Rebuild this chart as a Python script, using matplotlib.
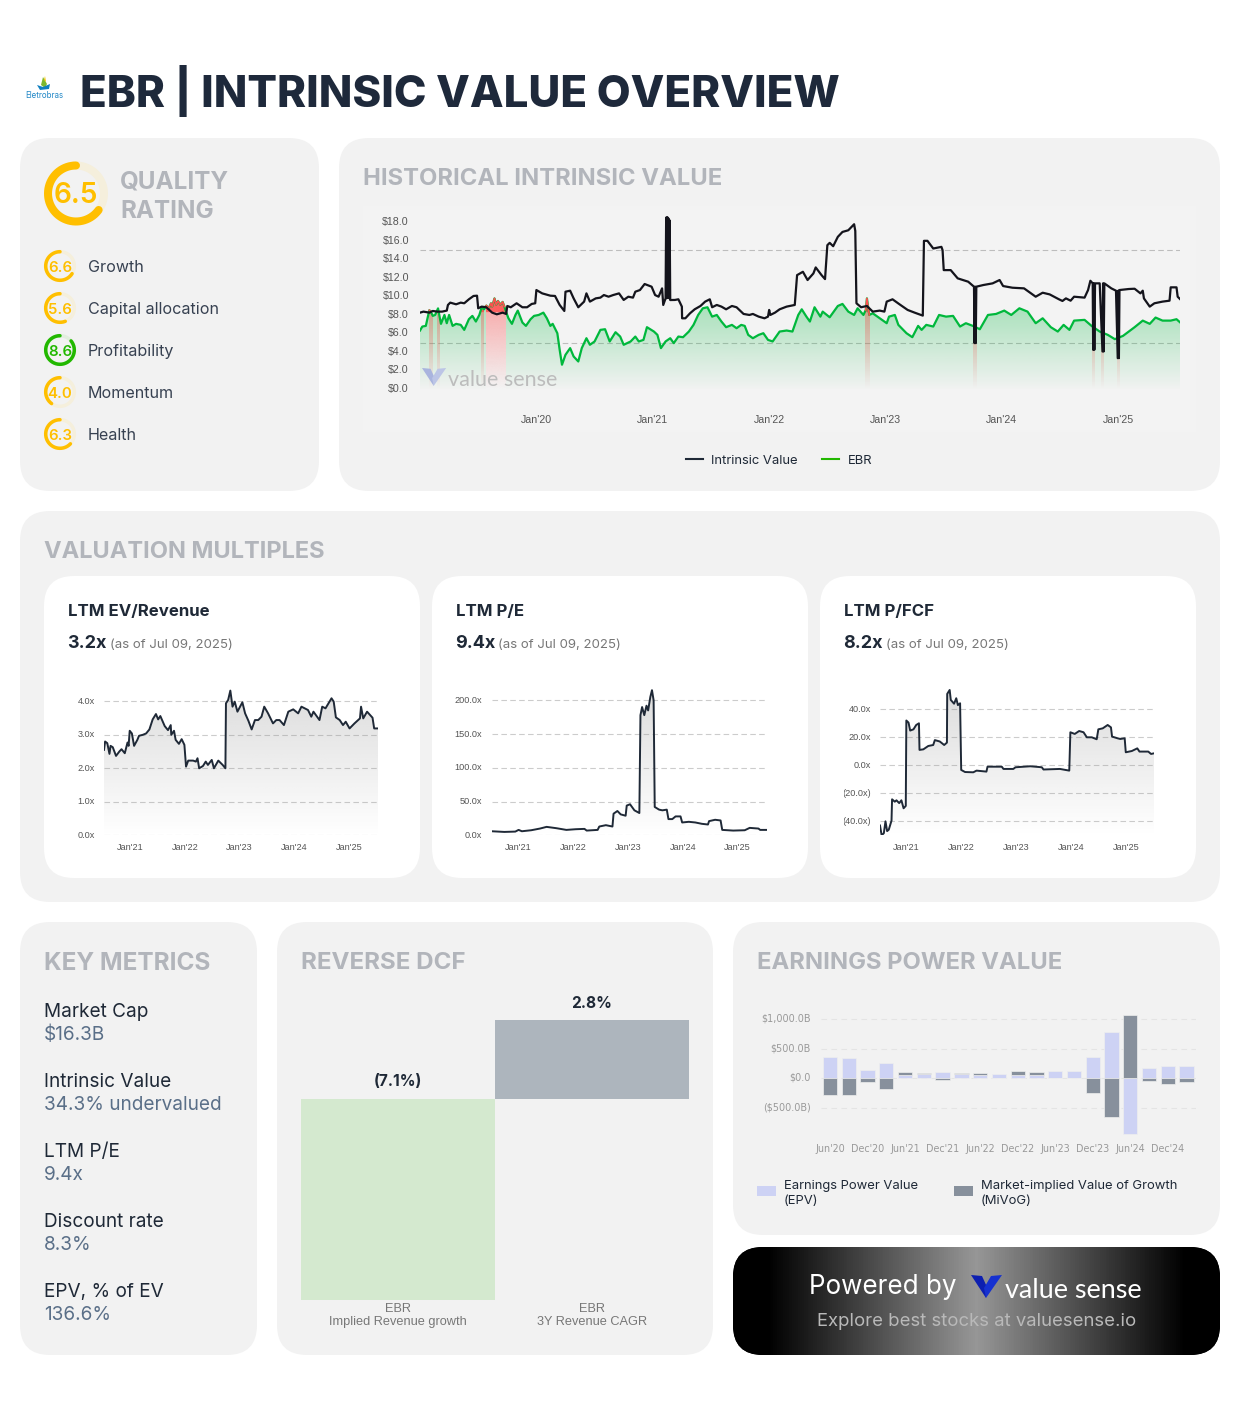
# -*- coding:utf-8 -*-
import numpy as np
import matplotlib
matplotlib.use('Agg')
import matplotlib.pyplot as plt
from matplotlib.patches import FancyBboxPatch, Polygon, Rectangle
from matplotlib.colors import to_rgb, LinearSegmentedColormap
from matplotlib.transforms import Bbox, ScaledTranslation

W, H = 1240, 1419
FONT = 'Inter'
TICK_FONT = 'Liberation Sans'

# --- quality ratings
QUALITY_SCORE = 6.5
RATING_NAMES = ['Growth', 'Capital allocation', 'Profitability', 'Momentum', 'Health']
RATING_SCORES = [6.6, 5.6, 8.6, 4.0, 6.3]

# --- historical intrinsic value
IV_DATES = [2019.00, 2019.03, 2019.08, 2019.11, 2019.15, 2019.19, 2019.23, 2019.24, 2019.26, 2019.31, 2019.35, 2019.38,
            2019.42, 2019.46, 2019.49, 2019.50, 2019.53, 2019.57, 2019.62, 2019.66, 2019.71, 2019.74, 2019.75, 2019.78,
            2019.83, 2019.88, 2019.92, 2019.96, 2019.99, 2020.00, 2020.05, 2020.12, 2020.16, 2020.20, 2020.24, 2020.25,
            2020.29, 2020.32, 2020.36, 2020.41, 2020.43, 2020.46, 2020.51, 2020.55, 2020.58, 2020.62, 2020.66, 2020.71,
            2020.75, 2020.79, 2020.83, 2020.85, 2020.89, 2020.93, 2020.99, 2021.02, 2021.05, 2021.08, 2021.09, 2021.11,
            2021.115, 2021.120, 2021.125, 2021.130, 2021.135, 2021.140, 2021.145, 2021.150,
            2021.19, 2021.22, 2021.25, 2021.252, 2021.28, 2021.32, 2021.36, 2021.41, 2021.45, 2021.49, 2021.51, 2021.55,
            2021.59, 2021.63, 2021.68, 2021.72, 2021.78, 2021.83, 2021.86, 2021.91, 2021.96, 2021.99, 2022.00, 2022.01,
            2022.05, 2022.09, 2022.15, 2022.22, 2022.24, 2022.29, 2022.33, 2022.38, 2022.40, 2022.45, 2022.48, 2022.50,
            2022.52, 2022.55, 2022.59, 2022.63, 2022.68, 2022.73, 2022.74, 2022.75, 2022.79, 2022.84, 2022.89, 2022.95,
            2022.99, 2023.01, 2023.06, 2023.12, 2023.19, 2023.25, 2023.32, 2023.33, 2023.36, 2023.41, 2023.48, 2023.49,
            2023.50, 2023.56, 2023.62, 2023.71, 2023.76, 2023.765, 2023.770, 2023.775, 2023.78, 2023.84, 2023.92, 2023.98,
            2024.01, 2024.09, 2024.19, 2024.29, 2024.35, 2024.41, 2024.49, 2024.52, 2024.55, 2024.59, 2024.62, 2024.71,
            2024.74, 2024.76, 2024.78, 2024.784, 2024.789, 2024.794, 2024.80, 2024.84, 2024.864, 2024.869, 2024.874, 2024.88,
            2024.94, 2024.98, 2024.995, 2025.000, 2025.005, 2025.01, 2025.09, 2025.14, 2025.19, 2025.21, 2025.22, 2025.27,
            2025.31, 2025.38, 2025.44, 2025.45, 2025.50, 2025.51, 2025.53]
IV_VALUES = [8.24, 8.35, 8.24, 8.42, 8.35, 8.35, 8.46, 9.07, 9.32, 9.14, 9.32, 9.25,
             9.68, 10.04, 10.07, 8.71, 8.89, 8.82, 8.24, 8.06, 8.24, 8.10, 8.96, 8.82,
             9.25, 8.82, 8.82, 9.18, 9.25, 10.68, 10.32, 10.07, 10.04, 9.07, 8.42, 10.50,
             10.61, 9.78, 8.82, 9.43, 10.32, 9.43, 9.78, 9.86, 10.14, 9.96, 10.14, 10.32,
             9.61, 9.96, 9.86, 10.50, 10.68, 11.33, 11.04, 10.14, 9.96, 10.86, 9.07, 9.78,
             18.5, 9.8, 18.55, 9.9, 18.4, 9.8, 18.2, 9.6,
             9.61, 9.68, 8.89, 7.63, 7.63, 8.17, 8.60, 8.96, 9.43, 9.68, 8.82, 9.07,
             8.89, 8.60, 8.96, 8.82, 8.10, 7.99, 8.10, 7.81, 7.63, 7.81, 8.53, 7.99,
             8.24, 8.60, 8.89, 9.07, 12.29, 12.65, 11.76, 12.47, 13.12, 12.29, 11.86, 15.52,
             15.77, 15.41, 16.42, 16.95, 17.13, 17.78, 17.06, 9.25, 8.82, 8.96, 8.35, 8.46,
             8.35, 9.43, 9.68, 9.14, 8.53, 8.24, 7.92, 15.99, 15.99, 15.16, 15.34, 14.98,
             12.83, 12.83, 11.94, 11.58, 11.04, 4.95, 11.04, 4.95, 11.04, 11.22, 11.40, 11.76,
             11.11, 10.93, 10.86, 9.96, 10.39, 10.21, 9.68, 9.50, 9.78, 9.53, 9.96, 9.86,
             10.68, 11.68, 11.40, 4.23, 11.40, 4.23, 11.40, 11.40, 4.05, 11.40, 4.05, 11.40,
             10.86, 10.61, 3.33, 10.61, 3.33, 10.68, 10.79, 10.82, 10.32, 10.61, 9.78, 8.89,
             9.25, 9.43, 9.53, 10.97, 10.97, 9.96, 9.71]

EBR_DATES = [2019.00, 2019.02, 2019.05, 2019.08, 2019.09, 2019.11, 2019.13, 2019.155, 2019.18, 2019.21, 2019.23, 2019.25, 2019.28,
             2019.31, 2019.35, 2019.38, 2019.42, 2019.45, 2019.48, 2019.51, 2019.53, 2019.55, 2019.57, 2019.59, 2019.61, 2019.62,
             2019.64, 2019.655, 2019.67, 2019.69, 2019.71, 2019.725, 2019.74, 2019.76, 2019.79, 2019.82, 2019.84, 2019.88, 2019.91,
             2019.95, 2019.98, 2020.02,
             2020.06, 2020.09, 2020.12, 2020.14, 2020.18, 2020.20, 2020.22, 2020.25, 2020.29, 2020.32, 2020.36, 2020.39,
             2020.43, 2020.46, 2020.50, 2020.55, 2020.59, 2020.63, 2020.68, 2020.72, 2020.75, 2020.81, 2020.85, 2020.88,
             2020.92, 2020.95, 2021.01, 2021.04, 2021.07, 2021.11, 2021.15, 2021.18, 2021.22, 2021.26, 2021.31, 2021.35,
             2021.39, 2021.43, 2021.47, 2021.51, 2021.55, 2021.59, 2021.63, 2021.68, 2021.72, 2021.76, 2021.79, 2021.82,
             2021.86, 2021.91, 2021.95, 2021.99, 2022.03, 2022.09, 2022.15, 2022.20, 2022.25, 2022.28, 2022.32, 2022.35,
             2022.39, 2022.44, 2022.46, 2022.52, 2022.59, 2022.63, 2022.68, 2022.73, 2022.76, 2022.81, 2022.83, 2022.84,
             2022.86, 2022.89, 2022.93, 2023.01, 2023.03, 2023.08, 2023.11, 2023.18, 2023.23, 2023.28, 2023.31, 2023.35,
             2023.41, 2023.46, 2023.52, 2023.58, 2023.64, 2023.69, 2023.75, 2023.81, 2023.88, 2023.95, 2024.02, 2024.08,
             2024.15, 2024.22, 2024.29, 2024.35, 2024.42, 2024.48, 2024.53, 2024.58, 2024.62, 2024.71, 2024.77, 2024.84,
             2024.91, 2024.97, 2025.04, 2025.14, 2025.21, 2025.27, 2025.32, 2025.38, 2025.45, 2025.50, 2025.53]
EBR_VALUES = [6.31, 6.74, 6.81, 8.50, 8.40, 7.89, 7.99, 8.70, 7.03, 7.99, 7.10, 7.99, 6.81,
              7.03, 6.92, 6.38, 7.53, 7.89, 7.28, 7.99, 8.82, 8.60, 9.00, 8.70, 9.25, 8.90,
              9.78, 9.10, 9.50, 9.10, 9.40, 8.90, 8.30, 7.63, 7.03, 7.99, 8.46, 7.17, 6.81,
              7.53, 7.89, 7.99,
              8.24, 7.63, 6.81, 7.03, 6.02, 4.23, 2.62, 3.69, 4.41, 3.51, 2.97, 4.41,
              5.48, 4.77, 5.13, 6.38, 6.45, 5.13, 6.13, 5.66, 4.77, 5.13, 5.66, 5.13,
              5.30, 6.67, 6.20, 5.84, 4.41, 5.13, 5.48, 4.95, 5.66, 5.59, 6.20, 6.92,
              7.99, 8.71, 8.82, 7.81, 7.99, 7.28, 6.67, 6.92, 6.56, 6.92, 6.81, 5.84,
              5.48, 5.84, 6.02, 5.30, 5.13, 6.20, 6.31, 6.20, 7.99, 8.60, 7.81, 7.28,
              8.82, 7.81, 8.35, 7.74, 8.96, 9.18, 8.35, 7.99, 8.71, 7.99, 8.53, 9.78,
              7.99, 8.17, 7.81, 7.10, 7.81, 7.99, 6.92, 6.02, 5.59, 6.81, 6.38, 6.92,
              6.74, 7.99, 7.81, 7.89, 6.74, 7.10, 6.81, 6.45, 7.99, 8.10, 8.46, 7.99,
              8.71, 8.35, 7.10, 7.63, 6.67, 6.20, 6.92, 6.38, 7.38, 7.46, 6.81, 6.20,
              5.84, 5.38, 5.73, 6.67, 7.38, 7.03, 7.71, 7.38, 7.38, 7.53, 7.20]

# periods where the stock trades above intrinsic value
ABOVE_IV_SPANS = [(2019.075, 2019.105), (2019.150, 2019.170), (2019.525, 2019.545), (2019.570, 2019.735),
                  (2022.825, 2022.860), (2023.755, 2023.785), (2024.775, 2024.800), (2024.855, 2024.880),
                  (2024.990, 2025.010)]
HIST_YTICKS = [0, 2, 4, 6, 8, 10, 12, 14, 16, 18]
HIST_GRID = [0, 5, 10, 15]
YEAR_TICKS = [2020, 2021, 2022, 2023, 2024, 2025]

# --- valuation multiples
EVREV_DATES = [2020.52, 2020.54, 2020.58, 2020.62, 2020.64, 2020.68, 2020.74, 2020.80, 2020.84, 2020.90, 2020.95, 2020.97,
               2020.99, 2021.03, 2021.07, 2021.13, 2021.16, 2021.23, 2021.29, 2021.35, 2021.41, 2021.47, 2021.51, 2021.55,
               2021.63, 2021.69, 2021.74, 2021.75, 2021.80, 2021.83, 2021.89, 2021.94, 2021.99, 2022.02, 2022.06, 2022.15,
               2022.20, 2022.23, 2022.26, 2022.33, 2022.38, 2022.42, 2022.49, 2022.53, 2022.61, 2022.69, 2022.74, 2022.75,
               2022.79, 2022.83, 2022.87, 2022.91, 2022.96, 2023.05, 2023.10, 2023.16, 2023.22, 2023.28, 2023.34, 2023.40,
               2023.45, 2023.52, 2023.61, 2023.67, 2023.73, 2023.81, 2023.89, 2023.98, 2024.07, 2024.13, 2024.25, 2024.31,
               2024.35, 2024.46, 2024.51, 2024.57, 2024.68, 2024.72, 2024.76, 2024.83, 2024.89, 2024.94, 2025.01, 2025.10,
               2025.20, 2025.22, 2025.26, 2025.33, 2025.43, 2025.46, 2025.53]
EVREV_VALUES = [2.55, 2.80, 2.75, 2.43, 2.67, 2.63, 2.37, 2.50, 2.57, 2.45, 2.77, 2.67,
                3.12, 3.04, 2.67, 2.85, 2.97, 3.00, 3.04, 3.16, 3.46, 3.62, 3.46, 3.56,
                3.26, 3.14, 3.29, 3.00, 3.12, 2.85, 2.73, 2.87, 2.70, 2.05, 2.23, 2.23,
                2.20, 2.30, 2.00, 2.07, 2.20, 2.10, 2.25, 2.00, 2.23, 2.10, 2.00, 3.94,
                4.04, 4.32, 3.84, 3.99, 3.69, 3.97, 3.64, 3.42, 3.16, 3.44, 3.44, 3.54,
                3.84, 3.64, 3.34, 3.44, 3.44, 3.29, 3.69, 3.76, 3.64, 3.84, 3.74, 3.54,
                3.69, 3.44, 3.84, 3.79, 4.09, 3.99, 3.52, 3.44, 3.29, 3.39, 3.19, 3.34,
                3.49, 3.84, 3.49, 3.69, 3.51, 3.19, 3.19]

PE_DATES = [2020.52, 2020.75, 2020.95, 2021.01, 2021.07, 2021.24, 2021.40, 2021.52, 2021.70, 2021.88, 2022.05, 2022.21,
            2022.25, 2022.45, 2022.48, 2022.60, 2022.72, 2022.74, 2022.81, 2022.87, 2022.96, 2022.98, 2023.04, 2023.12,
            2023.21, 2023.23, 2023.26, 2023.30, 2023.34, 2023.37, 2023.41, 2023.44, 2023.47, 2023.49, 2023.57, 2023.63,
            2023.71, 2023.74, 2023.81, 2023.87, 2023.96, 2023.99, 2024.11, 2024.23, 2024.35, 2024.46, 2024.48, 2024.59,
            2024.69, 2024.72, 2024.92, 2025.13, 2025.22, 2025.38, 2025.41, 2025.53]
PE_VALUES = [6, 5, 5.5, 8, 6, 7.5, 10, 12.5, 10.5, 8, 9, 9.5,
             7, 8, 13, 15, 13, 32, 36, 31, 29, 44, 46, 37,
             33, 178, 190, 178, 192, 185, 205, 215, 200, 42, 38, 37,
             38, 24, 24, 28, 28, 19, 20, 19, 17, 16, 21, 23,
             22, 8, 7, 7.5, 11, 10, 8, 8]

PFCF_DATES = [2020.52, 2020.55, 2020.59, 2020.62, 2020.65, 2020.68, 2020.73, 2020.74, 2020.79, 2020.82, 2020.87, 2020.91,
              2020.95, 2020.99, 2021.00, 2021.04, 2021.07, 2021.13, 2021.18, 2021.23, 2021.24, 2021.31, 2021.40, 2021.49,
              2021.52, 2021.61, 2021.69, 2021.74, 2021.745, 2021.79, 2021.81, 2021.87, 2021.91, 2021.94, 2021.98, 2022.00,
              2022.07, 2022.22, 2022.28, 2022.46, 2022.48, 2022.74, 2022.77, 2022.95, 2022.99, 2023.26, 2023.47, 2023.50,
              2023.80, 2023.97, 2023.99, 2024.07, 2024.15, 2024.23, 2024.29, 2024.38, 2024.47, 2024.50, 2024.58, 2024.67,
              2024.73, 2024.75, 2024.85, 2024.90, 2024.98, 2025.00, 2025.11, 2025.21, 2025.25, 2025.41, 2025.46, 2025.52]
PFCF_VALUES = [-43, -50, -48.5, -40, -47, -46, -39.5, -24.3, -26, -25, -27, -25,
               -30.7, -29, 32, 30.5, 24.8, 25.7, 28.8, 30, 11, 11.4, 13.8, 14.5,
               18, 17, 14.5, 16.2, 51, 53.8, 46.7, 44, 47.9, 43, 44.3, -3.3,
               -4.8, -5, -3.8, -4.5, -1, -1, -2.6, -2.6, -1.4, -0.7, -1.4, -3,
               -2.6, -3.8, 23.6, 22.4, 24.5, 23.6, 20, 20, 18.6, 25.7, 26.4, 28.8,
               27.1, 20.5, 19.3, 18.8, 19.3, 9.3, 10.2, 12.1, 9.8, 9.8, 8.1, 8.6]

MULTIPLE_TITLES = ['LTM EV/Revenue', 'LTM P/E', 'LTM P/FCF']
MULTIPLE_NOW = ['3.2x', '9.4x', '8.2x']
AS_OF = '(as of Jul 09, 2025)'
EVREV_TICKS = [0, 1, 2, 3, 4]
EVREV_LABELS = ['0.0x', '1.0x', '2.0x', '3.0x', '4.0x']
PE_TICKS = [0, 50, 100, 150, 200]
PE_LABELS = ['0.0x', '50.0x', '100.0x', '150.0x', '200.0x']
PFCF_TICKS = [-40, -20, 0, 20, 40]
PFCF_LABELS = ['(40.0x)', '(20.0x)', '0.0x', '20.0x', '40.0x']
MULT_YEARS = [2021, 2022, 2023, 2024, 2025]

# --- key metrics
METRIC_NAMES = ['Market Cap', 'Intrinsic Value', 'LTM P/E', 'Discount rate', 'EPV, % of EV']
METRIC_VALUES = ['$16.3B', '34.3% undervalued', '9.4x', '8.3%', '136.6%']

# --- reverse dcf
DCF_LABELS = ['EBR\nImplied Revenue growth', 'EBR\n3Y Revenue CAGR']
DCF_VALUES = [-7.1, 2.8]
DCF_TEXT = ['(7.1%)', '2.8%']

# --- earnings power value
EPV_PERIODS = ["Jun'20", "Sep'20", "Dec'20", "Mar'21", "Jun'21", "Sep'21", "Dec'21", "Mar'22", "Jun'22", "Sep'22",
               "Dec'22", "Mar'23", "Jun'23", "Sep'23", "Dec'23", "Mar'24", "Jun'24", "Sep'24", "Dec'24", "Mar'25"]
EPV_VALUES = [354, 343, 140, 253, 56, 73, 107, 73, 62, 73, 56, 56, 124, 124, 360, 781, -950, 169, 208, 202]
MIVOG_VALUES = [-275, -275, -56, -178, 45, 17, -34, 17, 22, 0, 73, 51, 0, 0, -242, -652, 1073, -39, -90, -56]
EPV_TICKS = [-500, 0, 500, 1000]
EPV_TICK_LABELS = ['($500.0B)', '$0.0', '$500.0B', '$1,000.0B']

plt.rcParams['font.family'] = [FONT, 'DejaVu Sans']

INK = '#1f2937'
HEAD_GREY = '#b2b5bb'
CARD = '#f2f2f2'
AMBER = '#ffbf00'
GREEN = '#22b800'


def card(ax, x, y, w, h, r=30, color=CARD):
    p = FancyBboxPatch((x, y), w, h, boxstyle='round,pad=0,rounding_size=%s' % r,
                       facecolor=color, edgecolor='none', zorder=1)
    ax.add_patch(p)
    return p


def px_axes(x0, x1, y_top, y_bottom):
    a = fig.add_axes([x0 / W, 1 - y_bottom / H, (x1 - x0) / W, (y_bottom - y_top) / H])
    a.patch.set_alpha(0)
    for s in a.spines.values():
        s.set_visible(False)
    a.tick_params(length=0)
    return a


def nudge_up(labels, px):
    for t in labels:
        t.set_transform(t.get_transform() + ScaledTranslation(0, px / 100, fig.dpi_scale_trans))


def gradient_under(a, xs, ys, base, top, color, alpha_col, span=None, z=1.5):
    # alpha_col runs from the top of the picture to the base
    xs = np.asarray(xs)
    ys = np.asarray(ys)
    verts = np.column_stack([np.r_[xs[0], xs, xs[-1]], np.r_[base, ys, base]])
    clip = Polygon(verts, closed=True, facecolor='none', edgecolor='none', transform=a.transData)
    a.add_patch(clip)
    img = np.zeros((len(alpha_col), 1, 4))
    img[..., :3] = to_rgb(color)
    img[:, 0, 3] = alpha_col
    x0, x1 = span if span else (xs[0], xs[-1])
    im = a.imshow(img, extent=[x0, x1, base, top], origin='upper', aspect='auto', zorder=z)
    im.set_clip_path(clip)
    return im


def ring(ax, cx, cy, r, lw, score, color, track):
    # score runs anticlockwise from the top
    t = np.linspace(0, 2 * np.pi, 200)
    ax.plot(cx - r * np.sin(t), cy - r * np.cos(t), color=track, lw=lw * 0.72, zorder=3)
    t = np.linspace(0, 2 * np.pi * score / 10, 200)
    ax.plot(cx - r * np.sin(t), cy - r * np.cos(t), color=color, lw=lw * 0.72, zorder=4,
            solid_capstyle='round')


def vs_logo(ax, x, y, s, left, right):
    # little V mark of the value sense logo
    ax.add_patch(Polygon([(x, y), (x + 11 * s, y + 1 * s), (x + 16 * s, y + 12 * s), (x + 15 * s, y + 23 * s)],
                         facecolor=left, edgecolor='none', zorder=6))
    ax.add_patch(Polygon([(x + 31 * s, y), (x + 20 * s, y + 1 * s), (x + 13 * s, y + 13 * s), (x + 15 * s, y + 23 * s)],
                         facecolor=right, edgecolor='none', zorder=6))


fig = plt.figure(figsize=(W / 100, H / 100), dpi=100, facecolor='white')
bg = fig.add_axes([0, 0, 1, 1])
bg.set_xlim(0, W)
bg.set_ylim(H, 0)
bg.axis('off')


def label(x, y, s, size, color=INK, weight='normal', ha='left', va='center', family=None, dy=2, on=None, **kw):
    target = on if on is not None else bg
    return target.text(x, y + dy, s, fontsize=size * 0.72, color=color, fontweight=weight, ha=ha, va=va,
                       family=family if family else [FONT, 'DejaVu Sans'], zorder=7, **kw)


# header
label(80, 91, 'EBR | INTRINSIC VALUE OVERVIEW', 43.85, color='#1e293b', weight=800, dy=0)
label(44, 95.5, 'Eletrobras', 7.9, color='#1f86c6', ha='center', dy=0)
bg.add_patch(Polygon([(43, 77), (47, 84), (45, 88), (41, 85)], facecolor='#7cb82f', edgecolor='none', zorder=5))
bg.add_patch(Polygon([(44, 80), (45, 76), (46, 82)], facecolor='#f2c200', edgecolor='none', zorder=6))
bg.add_patch(Polygon([(37, 85), (43, 87), (50, 84), (49, 89), (40, 90)], facecolor='#0f7fc0', edgecolor='none', zorder=5))

# cards
card(bg, 20, 138, 299, 353)
card(bg, 339, 138, 881, 353)
card(bg, 20, 511, 1200, 391)
card(bg, 44, 576, 376, 302, color='white')
card(bg, 432, 576, 376, 302, color='white')
card(bg, 820, 576, 376, 302, color='white')
card(bg, 20, 922, 237, 433)
card(bg, 277, 922, 436, 433)
card(bg, 733, 922, 487, 313)

# quality rating
ring(bg, 76, 193.5, 28, 8, QUALITY_SCORE, AMBER, '#f5efdc')
label(76, 193.5, '%.1f' % QUALITY_SCORE, 28, color=AMBER, weight='semibold', ha='center')
label(120, 180, 'QUALITY', 24.2, color=HEAD_GREY, weight='bold')
label(120, 209, 'RATING', 24.2, color=HEAD_GREY, weight='bold')
for i in range(len(RATING_NAMES)):
    cy = 266 + 42 * i
    score = RATING_SCORES[i]
    col = GREEN if score >= 7 else AMBER
    track = '#e2eede' if score >= 7 else '#f5efdc'
    ring(bg, 60, cy, 14.3, 3.5, score, col, track)
    label(60, cy, '%.1f' % score, 15, color=col, weight='semibold', ha='center')
    label(88, cy - 0.5, RATING_NAMES[i], 16.1, color='#374151')

# historical chart
label(363, 177, 'HISTORICAL INTRINSIC VALUE', 23.8, color=HEAD_GREY, weight='bold')
bg.add_patch(Rectangle((363, 206), 833, 226, facecolor='#f3f3f3', edgecolor='none', zorder=1.2))
h_per = (389 - 250) / 15.0
ax = px_axes(420, 1180, 207, 389)
HIST_TOP = 182 / h_per
gradient_under(ax, EBR_DATES, EBR_VALUES, 0, 10, '#00b83c', np.linspace(0.34, 0.01, 256))
stops = np.linspace(9.9, 0, 256)
red_alpha = np.where(stops > 8.3, 0.85, 0.38 * stops / 8.3)
for span in ABOVE_IV_SPANS:
    if span[1] - span[0] > 0.05:
        # wide red zones hide the green wash below them
        gradient_under(ax, EBR_DATES, EBR_VALUES, 0, 9.9, '#f3f3f3', np.ones(256), span=span, z=1.6)
    gradient_under(ax, EBR_DATES, EBR_VALUES, 0, 9.9, '#ff4545', red_alpha, span=span, z=1.7)
ebr_d = np.asarray(EBR_DATES)
ebr_v = np.asarray(EBR_VALUES)
ax.plot(ebr_d, ebr_v, color='#00b83c', lw=1.6, zorder=3)
for span in ABOVE_IV_SPANS:
    mask = (ebr_d >= span[0]) & (ebr_d <= span[1])
    if mask.sum() > 1:
        ax.plot(ebr_d[mask], ebr_v[mask], color='#ff5050', lw=1.2, zorder=3.2)
ax.plot(IV_DATES, IV_VALUES, color='#14141c', lw=1.6, zorder=4)
ax.set_xlim(2019.0, 2025.53)
ax.set_ylim(0, HIST_TOP)
ax.set_yticks(HIST_YTICKS)
ax.set_yticklabels(['$%.1f' % v for v in HIST_YTICKS], family=TICK_FONT, fontsize=7.7, color='#555555')
ax.set_yticks(HIST_GRID, minor=True)
ax.set_xticks(YEAR_TICKS)
ax.set_xticklabels(["Jan'%d" % (y % 100) for y in YEAR_TICKS], family=TICK_FONT, fontsize=7.7, color='#555555')
ax.grid(which='minor', axis='y', color='#bdbdbd', ls=(0, (5, 3)), lw=0.8, zorder=1)
ax.set_axisbelow(True)
ax.tick_params(which='both', length=0)
ax.tick_params(axis='x', pad=19)
ax.tick_params(axis='y', pad=8)
nudge_up(ax.get_yticklabels(), 1)

# legend
bg.plot([686, 703], [459, 459], color=INK, lw=1.5, zorder=6)
label(711, 459.5, 'Intrinsic Value', 13)
bg.plot([822, 839], [459, 459], color=GREEN, lw=1.5, zorder=6)
label(848, 459.5, 'EBR', 13)

# valuation multiples
label(44, 550, 'VALUATION MULTIPLES', 23.65, color=HEAD_GREY, weight='bold')
LEFTS = [68, 456, 844]
for i in range(3):
    label(LEFTS[i], 610, MULTIPLE_TITLES[i], 16.8, weight='bold')
    label(LEFTS[i] - 1, 642, MULTIPLE_NOW[i], 18, weight='bold')
    label(LEFTS[i] + 42, 643, AS_OF, 13.2, color='#777777')

specs = [(EVREV_DATES, EVREV_VALUES, EVREV_TICKS, EVREV_LABELS, 104, 378, 835.3, 33.5, 0, 4.45),
         (PE_DATES, PE_VALUES, PE_TICKS, PE_LABELS, 491.7, 766.7, 835.3, 0.675, 0, 222),
         (PFCF_DATES, PFCF_VALUES, PFCF_TICKS, PFCF_LABELS, 880, 1154.3, 835.3, 1.4, -50, 56)]
for dates, vals, ticks, labs, x0, x1, y_base, per, lo, hi in specs:
    top = y_base - (hi - lo) * per
    a = px_axes(x0, x1, top, y_base)
    gradient_under(a, dates, vals, lo, hi, '#8f8f8f', np.linspace(0.32, 0.0, 256))
    a.plot(dates, vals, color='#1f2937', lw=1.4, zorder=3)
    a.set_xlim(dates[0], dates[-1])
    a.set_ylim(lo, hi)
    a.set_yticks(ticks)
    a.set_yticklabels(labs, family=TICK_FONT, fontsize=6.6, color='#555555')
    a.set_xticks(MULT_YEARS)
    a.set_xticklabels(["Jan'%d" % (y % 100) for y in MULT_YEARS], family=TICK_FONT, fontsize=6.6, color='#555555')
    a.grid(axis='y', color='#cccccc', ls=(0, (5, 3)), lw=0.8)
    a.set_axisbelow(True)
    a.tick_params(axis='x', pad=5.2)
    a.tick_params(axis='y', pad=6.7)
    nudge_up(a.get_yticklabels(), 1)
    if lo < 0:
        # the bracket of the negative labels is cut by the chart box in the reference
        for t in a.get_yticklabels():
            t.set_clip_on(True)
            t.set_clip_box(Bbox([[844.3, 0], [W, H]]))

# key metrics
label(44, 961, 'KEY METRICS', 24.4, color=HEAD_GREY, weight='bold')
for i in range(5):
    label(44, 1010 + 70 * i, METRIC_NAMES[i], 19)
    label(44, 1033 + 70 * i, METRIC_VALUES[i], 19, color='#5a6f88')

# reverse dcf
label(301, 961, 'REVERSE DCF', 24.1, color=HEAD_GREY, weight='bold')
a = px_axes(301, 689, 1000, 1300)
a.bar([0, 1], DCF_VALUES, width=1.0, color=['#d4e9cf', '#adb5bd'], zorder=2)
a.set_xlim(-0.5, 1.5)
a.set_ylim(-7.1, 3.49)
a.set_yticks([])
a.set_xticks([0, 1])
a.set_xticklabels(DCF_LABELS, family=TICK_FONT, fontsize=9.2, color='#777777', linespacing=1.08)
a.tick_params(axis='x', pad=2.4)
a.text(0, 0.63, DCF_TEXT[0], ha='center', va='center', fontsize=15.5 * 0.72, fontweight='bold', color=INK)
a.text(1, 3.38, DCF_TEXT[1], ha='center', va='center', fontsize=15.5 * 0.72, fontweight='bold', color=INK)

# earnings power value
label(757, 961, 'EARNINGS POWER VALUE', 23.8, color=HEAD_GREY, weight='bold')
a = px_axes(820.6, 1196, 1010, 1135)
per_b = 0.059
idx = np.arange(len(EPV_PERIODS))
epv = np.asarray(EPV_VALUES, dtype=float)
mivog = np.asarray(MIVOG_VALUES, dtype=float)
same = np.sign(epv) == np.sign(mivog)
a.bar(idx, epv, width=0.76, color='#cdd2f4', edgecolor='#eeeeee', lw=0.5, zorder=2)
a.bar(idx, mivog, width=0.76, bottom=np.where(same, epv, 0), color='#87909c', edgecolor='#eeeeee', lw=0.5, zorder=2)
a.set_xlim(-0.5, 19.5)
a.set_ylim(-(1135 - 1078.3) / per_b, (1078.3 - 1010) / per_b)
a.set_yticks(EPV_TICKS)
a.set_yticklabels(EPV_TICK_LABELS, fontsize=6.9, color='#999999', family=['DejaVu Sans'])
a.set_xticks(idx[::2])
a.set_xticklabels(EPV_PERIODS[::2], fontsize=6.9, color='#999999', family=['DejaVu Sans'])
a.grid(axis='y', color='#e4e4e4', ls=(0, (5, 4)), lw=0.8)
a.set_axisbelow(True)
a.tick_params(axis='x', pad=6.3)
a.tick_params(axis='y', pad=7)
nudge_up(a.get_yticklabels(), 1.5)
bg.add_patch(Rectangle((757, 1186), 19, 10, facecolor='#cdd2f4', edgecolor='none', zorder=5))
label(784, 1184, 'Earnings Power Value', 13)
label(784, 1199, '(EPV)', 13)
bg.add_patch(Rectangle((954, 1186), 19, 10, facecolor='#87909c', edgecolor='none', zorder=5))
label(981, 1184, 'Market-implied Value of Growth', 13)
label(981, 1199, '(MiVoG)', 13)

# powered by banner
banner = card(bg, 733, 1247, 487, 108, r=30, color='black')
cm = LinearSegmentedColormap.from_list('banner', [(0, 'black'), (0.07, 'black'), (0.5, '#979797'),
                                                  (0.93, 'black'), (1, 'black')])
im = bg.imshow(np.linspace(0, 1, 487).reshape(1, -1), extent=[733, 1220, 1355, 1247], cmap=cm, aspect='auto',
               zorder=2, vmin=0, vmax=1)
im.set_clip_path(banner)
bg.set_xlim(0, W)
bg.set_ylim(H, 0)
label(809, 1287, 'Powered by', 26, color='white', dy=0)
vs_logo(bg, 971, 1275, 1.0, '#0d1fb0', '#1631d0')
label(1005, 1290, 'value sense', 27, color='white', family=['Lato', 'DejaVu Sans'], dy=0)
label(817, 1321, 'Explore best stocks at valuesense.io', 18.5, color='#b9b9b9', dy=0)

# watermark sits on top of the historical chart, so it gets its own layer
over = fig.add_axes([0, 0, 1, 1], zorder=10)
over.patch.set_alpha(0)
over.set_xlim(0, W)
over.set_ylim(H, 0)
over.axis('off')
vs_logo(over, 422, 368, 0.78, '#a9b4de', '#bcc5e6')
label(448, 380, 'value sense', 21.5, color='#bcbcbc', family=['Lato', 'DejaVu Sans'], dy=0, on=over)

fig.savefig('out.png', dpi=100, facecolor='white')
